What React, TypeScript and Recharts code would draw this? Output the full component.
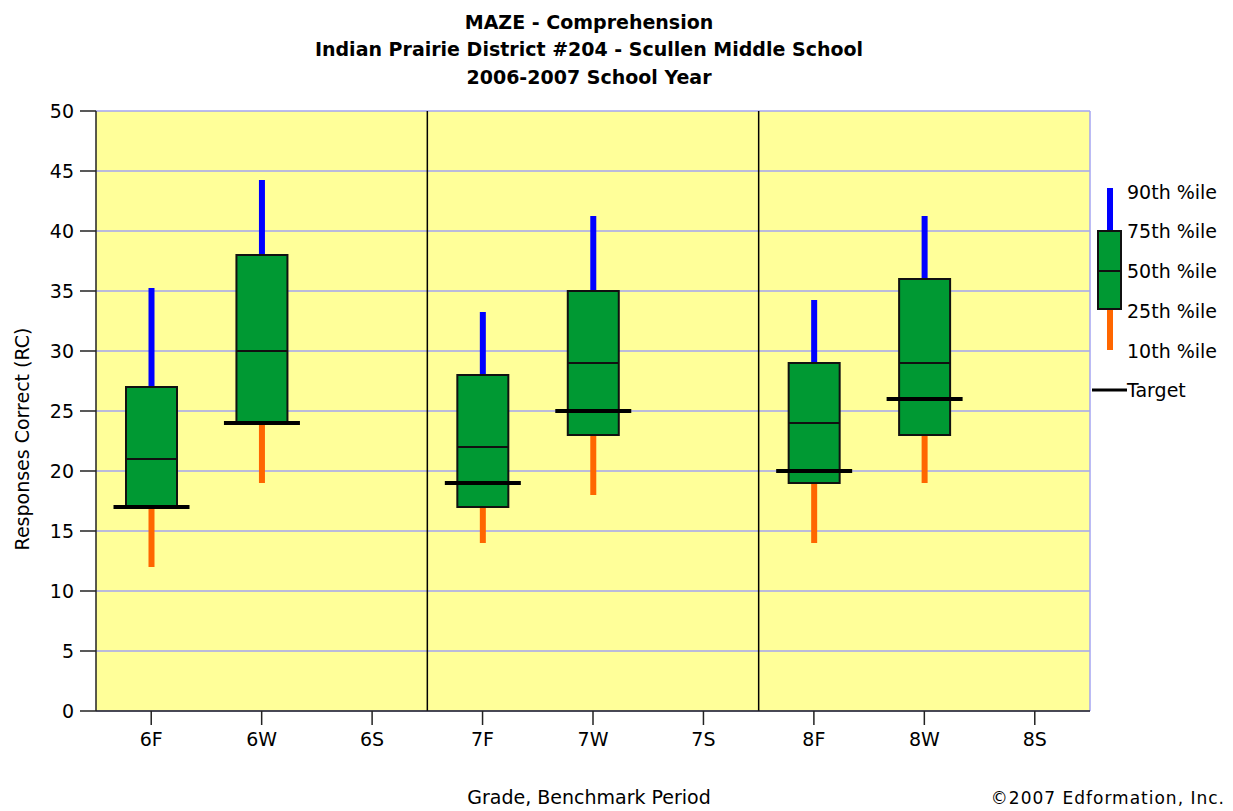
import React from 'react';
import { ComposedChart, Bar, XAxis, YAxis, CartesianGrid, ReferenceLine } from 'recharts';

const categories = ['6F', '6W', '6S', '7F', '7W', '7S', '8F', '8W', '8S'];
const p10 = [12, 19, null, 14, 18, null, 14, 19, null];
const p25 = [17, 24, null, 17, 23, null, 19, 23, null];
const p50 = [21, 30, null, 22, 29, null, 24, 29, null];
const p75 = [27, 38, null, 28, 35, null, 29, 36, null];
const p90 = [35, 44, null, 33, 41, null, 34, 41, null];
const target = [17, 24, null, 19, 25, null, 20, 26, null];
const yTicks = [0, 5, 10, 15, 20, 25, 30, 35, 40, 45, 50];
const legendLabels = ['90th %ile', '75th %ile', '50th %ile', '25th %ile', '10th %ile'];

const data = categories.map((c, i) => ({
  cat: c,
  range: p10[i] == null ? null : [p10[i], p90[i]],
  p10: p10[i],
  p25: p25[i],
  p50: p50[i],
  p75: p75[i],
  p90: p90[i],
  target: target[i],
}));

const FONT = 'DejaVu Sans';
const GREEN = '#009933';
const BLUE = '#0000ff';
const ORANGE = '#ff6600';
const GRID = '#a4a4f2';

const BoxShape = (props: any) => {
  const { x, y, width, height, payload } = props;
  if (!payload || payload.range == null || height == null) return null;
  const top = Math.min(y, y + height);
  const h = Math.abs(height);
  const { p10: a, p25: b, p50: m, p75: c, p90: d, target: t } = payload;
  const py = (v: number) => top + (h * (d - v)) / (d - a);
  const cx = x + width / 2;
  return (
    <g>
      <rect x={cx - 3} y={py(d) - 3} width={6} height={py(c) - py(d) + 3} fill={BLUE} />
      <rect x={cx - 3} y={py(b)} width={6} height={py(a) - py(b)} fill={ORANGE} />
      <rect x={x} y={py(c)} width={width} height={py(b) - py(c)} fill={GREEN} stroke="#111" strokeWidth={2} />
      <line x1={x} x2={x + width} y1={py(m)} y2={py(m)} stroke="#111" strokeWidth={2} />
      <line x1={cx - 38} x2={cx + 38} y1={py(t)} y2={py(t)} stroke="#000" strokeWidth={4} />
    </g>
  );
};

export default function App() {
  const legendX = 1110;
  const legendYs = [192, 231, 271, 311, 351];
  return (
    <div style={{ position: 'absolute', left: 0, top: 0, width: 1233, height: 811, background: '#fff' }}>
      <ComposedChart
        width={1233}
        height={811}
        data={data}
        margin={{ top: 111, right: 143, bottom: 60, left: 0 }}
      >
        <CartesianGrid vertical={false} stroke={GRID} strokeWidth={1.5} fill="#ffff99" fillOpacity={1} />
        <XAxis
          dataKey="cat"
          height={40}
          tickSize={14}
          tickMargin={8}
          tickLine={{ stroke: '#222', strokeWidth: 1.5 }}
          axisLine={{ stroke: '#222', strokeWidth: 1.5 }}
          tick={{ fontSize: 19, fill: '#000', fontFamily: FONT }}
          interval={0}
        />
        <YAxis
          width={96}
          domain={[0, 50]}
          ticks={yTicks}
          type="number"
          allowDataOverflow
          tickSize={16}
          tickMargin={6}
          tickLine={{ stroke: '#222', strokeWidth: 1.5 }}
          axisLine={{ stroke: '#222', strokeWidth: 1.5 }}
          tick={{ fontSize: 19, fill: '#000', fontFamily: FONT }}
        />
        <ReferenceLine x="6S" position="end" stroke="#000" strokeWidth={1.5} />
        <ReferenceLine x="7S" position="end" stroke="#000" strokeWidth={1.5} />
        <ReferenceLine x="8S" position="end" stroke={GRID} strokeWidth={1.5} />
        <Bar dataKey="range" barSize={51} shape={BoxShape} isAnimationActive={false} />
      </ComposedChart>
      <svg
        width={1233}
        height={811}
        style={{ position: 'absolute', left: 0, top: 0, pointerEvents: 'none' }}
      >
        <g fontFamily={FONT} fontWeight="bold" fontSize={19} textAnchor="middle" fill="#000">
          <text x={589} y={29}>MAZE - Comprehension</text>
          <text x={589} y={56}>Indian Prairie District #204 - Scullen Middle School</text>
          <text x={589} y={84}>2006-2007 School Year</text>
        </g>
        <text x={589} y={804} fontFamily={FONT} fontSize={19} textAnchor="middle">
          Grade, Benchmark Period
        </text>
        <text x={1225} y={804} fontFamily={FONT} fontSize={17} letterSpacing={1} textAnchor="end">
          ©2007 Edformation, Inc.
        </text>
        <text
          x={0}
          y={0}
          fontFamily={FONT}
          fontSize={19}
          textAnchor="middle"
          transform="translate(29,439) rotate(-90)"
        >
          Responses Correct (RC)
        </text>
        <rect x={legendX - 3} y={188} width={6} height={43} fill={BLUE} />
        <rect x={legendX - 3} y={309} width={6} height={41} fill={ORANGE} />
        <rect x={1098} y={231} width={23} height={78} fill={GREEN} stroke="#111" strokeWidth={2} />
        <line x1={1098} x2={1121} y1={271} y2={271} stroke="#111" strokeWidth={2} />
        <line x1={1092} x2={1127} y1={390} y2={390} stroke="#000" strokeWidth={3} />
        <g fontFamily={FONT} fontSize={19} fill="#000">
          {legendLabels.map((l, i) => (
            <text key={l} x={1127} y={legendYs[i]} dy="0.355em">
              {l}
            </text>
          ))}
          <text x={1127} y={390} dy="0.355em">Target</text>
        </g>
      </svg>
    </div>
  );
}
